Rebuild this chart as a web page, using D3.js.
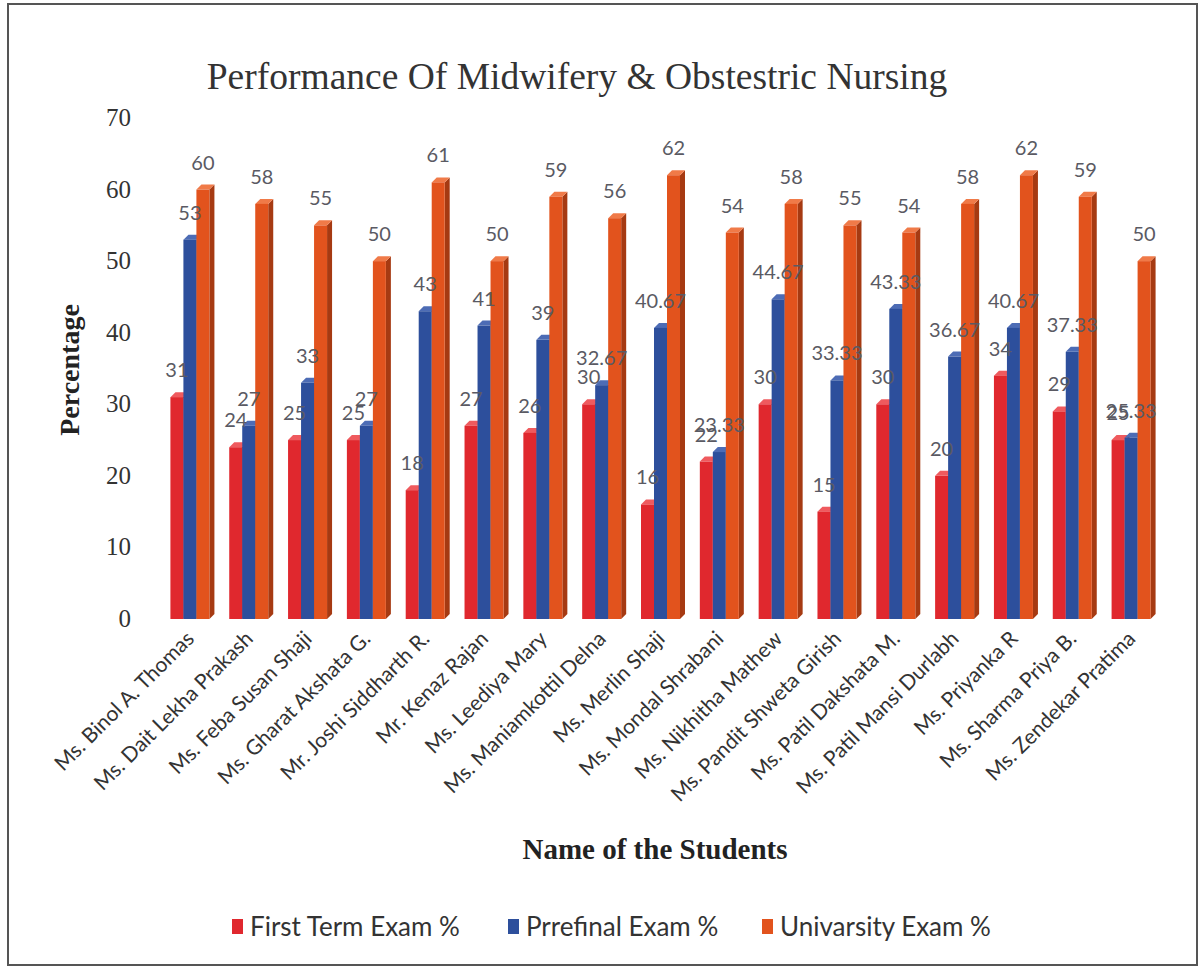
<!DOCTYPE html>
<html>
<head>
<meta charset="utf-8">
<script src="https://cdn.jsdelivr.net/npm/d3@7"></script>
<style>
  body { margin: 0; background: #fff; }
  svg { display: block; }
</style>
</head>
<body>
<div id="chart"></div>
<script>
// student names along the x axis
const students = ["Ms. Binol A. Thomas", "Ms. Dait Lekha Prakash", "Ms. Feba Susan Shaji",
  "Ms. Gharat Akshata G.", "Mr. Joshi Siddharth R.", "Mr. Kenaz Rajan", "Ms. Leediya Mary",
  "Ms. Maniamkottil Delna", "Ms. Merlin Shaji", "Ms. Mondal Shrabani", "Ms. Nikhitha Mathew",
  "Ms. Pandit Shweta Girish", "Ms. Patil Dakshata M.", "Ms. Patil Mansi Durlabh",
  "Ms. Priyanka R", "Ms. Sharma Priya B.", "Ms. Zendekar Pratima"]

const firstTerm = [31, 24, 25, 25, 18, 27, 26, 30, 16, 22, 30, 15, 30, 20, 34, 29, 25]
const prefinal = [53, 27, 33, 27, 43, 41, 39, 32.67, 40.67, 23.33, 44.67, 33.33, 43.33, 36.67, 40.67, 37.33, 25.33]
const university = [60, 58, 55, 50, 61, 50, 59, 56, 62, 54, 58, 55, 54, 58, 62, 59, 50]

const seriesNames = ["First Term Exam %", "Prrefinal Exam %", "Univarsity Exam %"]
const yTicks = [0, 10, 20, 30, 40, 50, 60, 70]

const W = 1202, H = 967
const front = ["#e0282e", "#2d4f9c", "#e2531d"]
const side = ["#a51c20", "#1d3470", "#a63a12"]
const topc = ["#ef5a5e", "#4d6cb5", "#f07a48"]

const series = [firstTerm, prefinal, university]
const rows = students.map((s, i) => ({ name: s, vals: series.map(arr => arr[i]) }))

const svg = d3.select("#chart").append("svg").attr("width", W).attr("height", H)

// outer frame
svg.append("rect").attr("x", 8).attr("y", 4).attr("width", 1189).attr("height", 961)
  .attr("fill", "none").attr("stroke", "#555").attr("stroke-width", 2)

const x = d3.scaleBand().domain(students).range([160, 1160])
const x1 = d3.scaleBand().domain([0, 1, 2]).range([0, 39])
const y = d3.scaleLinear().domain([0, 70]).range([619, 118])
const depth = 5

// title
svg.append("text").attr("x", 577).attr("y", 89).attr("text-anchor", "middle")
  .style("font-family", "Liberation Serif").style("font-size", "37.5px").attr("fill", "#333")
  .text("Performance Of Midwifery & Obstestric Nursing")

// y axis ticks (no line)
svg.append("g").selectAll("text").data(yTicks).join("text")
  .attr("x", 131).attr("y", d => y(d) + 8).attr("text-anchor", "end")
  .style("font-family", "Liberation Serif").style("font-size", "25px").attr("fill", "#333")
  .text(d => d)

svg.append("text").attr("transform", "translate(79,370) rotate(-90)").attr("text-anchor", "middle")
  .style("font-family", "Liberation Serif").style("font-size", "28px").style("font-weight", "bold")
  .attr("fill", "#222").text("Percentage")

// bars
const groups = svg.append("g").selectAll("g").data(rows).join("g")
  .attr("transform", d => `translate(${x(d.name) + x.bandwidth() / 2 - 19},0)`)

groups.each(function (row) {
  const g = d3.select(this)
  row.vals.forEach((v, k) => {
    const bx = x1(k), bw = x1.bandwidth(), by = y(v), b0 = y(0)
    // side face
    g.append("path")
      .attr("d", `M${bx + bw},${by} l${depth},${-depth} L${bx + bw + depth},${b0 - depth} L${bx + bw},${b0} Z`)
      .attr("fill", side[k])
    // top face
    g.append("path")
      .attr("d", `M${bx},${by} l${depth},${-depth} l${bw},0 l${-depth},${depth} Z`)
      .attr("fill", topc[k])
    g.append("rect").attr("x", bx).attr("y", by).attr("width", bw).attr("height", b0 - by)
      .attr("fill", front[k])
  })
})

// data labels
groups.each(function (row) {
  const g = d3.select(this)
  row.vals.forEach((v, k) => {
    g.append("text")
      .attr("x", x1(k) + x1.bandwidth() / 2)
      .attr("y", y(v) - 20)
      .attr("text-anchor", "middle")
      .style("font-family", "Lato").style("font-size", "20px")
      .attr("fill", "#5a5a63")
      .text(v)
  })
})

// category labels
svg.append("g").selectAll("text").data(students).join("text")
  .attr("transform", d => `translate(${x(d) + x.bandwidth() / 2 + 6},640) rotate(-45)`)
  .attr("text-anchor", "end")
  .style("font-family", "Lato").style("font-size", "21px").attr("fill", "#333")
  .text(d => d)

svg.append("text").attr("x", 655).attr("y", 859).attr("text-anchor", "middle")
  .style("font-family", "Liberation Serif").style("font-size", "29px").style("font-weight", "bold")
  .attr("fill", "#222").text("Name of the Students")

// legend
const legX = [232, 508, 762]
const leg = svg.append("g").selectAll("g").data(seriesNames).join("g")
  .attr("transform", (d, i) => `translate(${legX[i]},919)`)
leg.append("rect").attr("width", 11).attr("height", 15).attr("fill", (d, i) => front[i])
leg.append("text").attr("x", 18).attr("y", 17)
  .style("font-family", "Lato").style("font-size", "26px").attr("fill", "#333")
  .text(d => d)
</script>
</body>
</html>
